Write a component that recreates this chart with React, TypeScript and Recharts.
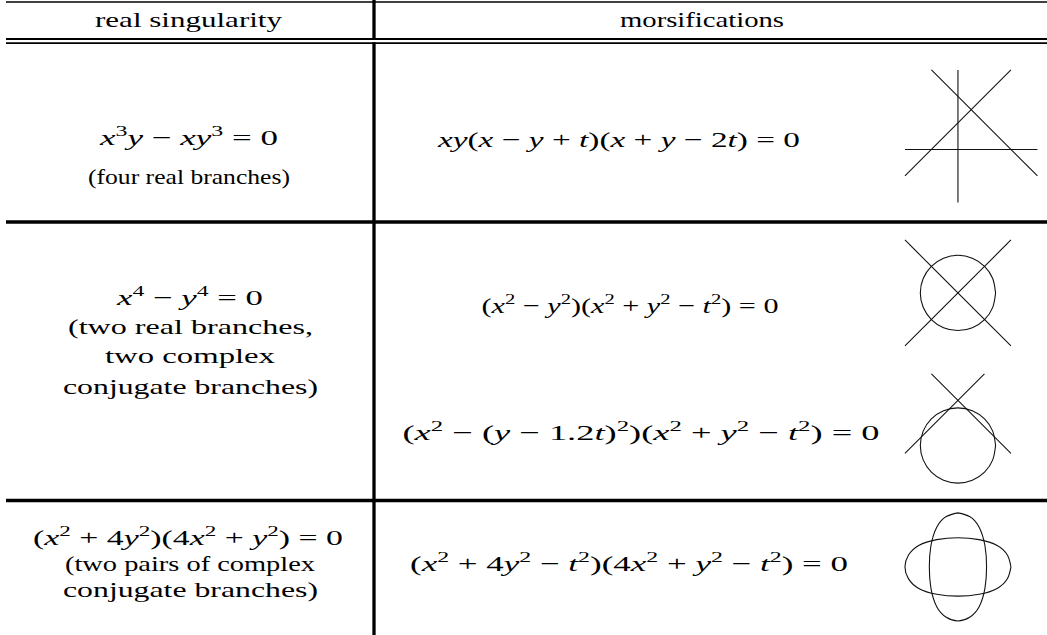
import { LineChart, Line, XAxis, YAxis } from 'recharts';

// ---- table text ----
const headers = ['real singularity', 'morsifications'];

const singularities = [
  'x^3y − xy^3 = 0',
  'x^4 − y^4 = 0',
  '(x^2 + 4y^2)(4x^2 + y^2) = 0',
];

const singularityNotes = [
  ['(four real branches)'],
  ['(two real branches,', 'two complex', 'conjugate branches)'],
  ['(two pairs of complex', 'conjugate branches)'],
];

const morsifications = [
  'xy(x − y + t)(x + y − 2t) = 0',
  '(x^2 − y^2)(x^2 + y^2 − t^2) = 0',
  '(x^2 − (y − 1.2t)^2)(x^2 + y^2 − t^2) = 0',
  '(x^2 + 4y^2 − t^2)(4x^2 + y^2 − t^2) = 0',
];

// ---- curve data (units of t-ish, read off the sketches) ----
// fig 1: xy(x - y + t)(x + y - 2t)
const fig1Vertical = [{ x: 0, y: -2 }, { x: 0, y: 3 }];
const fig1Horizontal = [{ x: -2, y: 0 }, { x: 3, y: 0 }];
const fig1Rising = [{ x: -2, y: -1 }, { x: 2, y: 3 }];
const fig1Falling = [{ x: -1, y: 3 }, { x: 3, y: -1 }];

// fig 2: (x^2 - y^2)(x^2 + y^2 - t^2)
const fig2Rising = [{ x: -2, y: -2 }, { x: 2, y: 2 }];
const fig2Falling = [{ x: -2, y: 2 }, { x: 2, y: -2 }];

const circle = [
  { x: 1.42, y: 0 }, { x: 1.312, y: 0.543 }, { x: 1.004, y: 1.004 }, { x: 0.543, y: 1.312 },
  { x: 0, y: 1.42 }, { x: -0.543, y: 1.312 }, { x: -1.004, y: 1.004 }, { x: -1.312, y: 0.543 },
  { x: -1.42, y: 0 }, { x: -1.312, y: -0.543 }, { x: -1.004, y: -1.004 }, { x: -0.543, y: -1.312 },
  { x: 0, y: -1.42 }, { x: 0.543, y: -1.312 }, { x: 1.004, y: -1.004 }, { x: 1.312, y: -0.543 },
  { x: 1.42, y: 0 },
];

// fig 3: (x^2 - (y - 1.2t)^2)(x^2 + y^2 - t^2)
const fig3Rising = [{ x: -2, y: -0.3 }, { x: 1, y: 2.7 }];
const fig3Falling = [{ x: -1, y: 2.7 }, { x: 2, y: -0.3 }];

// fig 4: (x^2 + 4y^2 - t^2)(4x^2 + y^2 - t^2)
const wideOval = [
  { x: 2, y: 0 }, { x: 1.87, y: 0.44 }, { x: 1.48, y: 0.81 }, { x: 0.8, y: 1.03 },
  { x: 0, y: 1.1 }, { x: -0.8, y: 1.03 }, { x: -1.48, y: 0.81 }, { x: -1.87, y: 0.44 },
  { x: -2, y: 0 }, { x: -1.87, y: -0.44 }, { x: -1.48, y: -0.81 }, { x: -0.8, y: -1.03 },
  { x: 0, y: -1.1 }, { x: 0.8, y: -1.03 }, { x: 1.48, y: -0.81 }, { x: 1.87, y: -0.44 },
  { x: 2, y: 0 },
];
const tallOval = [
  { x: 0, y: 2.04 }, { x: 0.44, y: 1.9 }, { x: 0.8, y: 1.5 }, { x: 1.02, y: 0.8 },
  { x: 1.08, y: 0 }, { x: 1.02, y: -0.8 }, { x: 0.8, y: -1.5 }, { x: 0.44, y: -1.9 },
  { x: 0, y: -2.04 }, { x: -0.44, y: -1.9 }, { x: -0.8, y: -1.5 }, { x: -1.02, y: -0.8 },
  { x: -1.08, y: 0 }, { x: -1.02, y: 0.8 }, { x: -0.8, y: 1.5 }, { x: -0.44, y: 1.9 },
  { x: 0, y: 2.04 },
];

// ---- layout ----
const W = 1047;
const H = 635;
const UNIT = 26.5; // px per unit in the sketches
const FONT = '"Liberation Serif", "Times New Roman", serif';
const FS = 22;
const SUP = 15;
const RISE = 9;

const headerPos = [
  { cx: 188.5, base: 27, w: 187 },
  { cx: 702, base: 27, w: 164 },
];
const singularityPos = [
  { cx: 189, base: 145, w: 178 },
  { cx: 190, base: 305, w: 146 },
  { cx: 188, base: 545, w: 310 },
];
const notePos = [
  [{ cx: 189, base: 184, w: 202 }],
  [{ cx: 190.5, base: 334, w: 245 }, { cx: 190, base: 363, w: 170 }, { cx: 190.5, base: 394, w: 255 }],
  [{ cx: 190, base: 571, w: 250 }, { cx: 190.5, base: 597, w: 255 }],
];
const morsPos = [
  { cx: 619, base: 147, w: 362 },
  { cx: 630, base: 313, w: 297 },
  { cx: 641, base: 440, w: 477 },
  { cx: 629, base: 571, w: 438 },
];

type Pt = { x: number; y: number };
type Sketch = {
  ox: number;
  oy: number;
  x: [number, number];
  y: [number, number];
  lines: Pt[][];
  curves: Pt[][];
};

const sketches: Sketch[] = [
  { ox: 958, oy: 149, x: [-2.3, 3.3], y: [-2.3, 3.3], lines: [fig1Vertical, fig1Horizontal, fig1Rising, fig1Falling], curves: [] },
  { ox: 958, oy: 293, x: [-2.3, 2.3], y: [-2.3, 2.3], lines: [fig2Rising, fig2Falling], curves: [circle] },
  { ox: 958, oy: 445.5, x: [-2.3, 2.3], y: [-1.7, 3.0], lines: [fig3Rising, fig3Falling], curves: [circle] },
  { ox: 958, oy: 567, x: [-2.3, 2.3], y: [-2.3, 2.3], lines: [], curves: [wideOval, tallOval] },
];

// split "x^2 + 4y^2" into runs: italic letters, roman rest, one-char superscripts
function mathRuns(src: string) {
  const runs: { t: string; it: boolean; sup: boolean }[] = [];
  for (let i = 0; i < src.length; i++) {
    let c = src[i];
    let sup = false;
    if (c === '^') {
      sup = true;
      c = src[++i];
    }
    const it = /[a-z]/.test(c);
    const last = runs[runs.length - 1];
    if (last && last.it === it && last.sup === sup) last.t += c;
    else runs.push({ t: c, it, sup });
  }
  return runs;
}

function MathText({ src, cx, base, w }: { src: string; cx: number; base: number; w: number }) {
  const runs = mathRuns(src);
  let up = false;
  return (
    <text
      x={cx}
      y={base}
      textAnchor="middle"
      textLength={w}
      lengthAdjust="spacingAndGlyphs"
      fontFamily={FONT}
      fontSize={FS}
      style={{ whiteSpace: 'pre' }}
    >
      {runs.map((r, i) => {
        let dy = 0;
        if (r.sup && !up) dy = -RISE;
        if (!r.sup && up) dy = RISE;
        up = r.sup;
        return (
          <tspan key={i} dy={dy || undefined} fontStyle={r.it ? 'italic' : 'normal'} fontSize={r.sup ? SUP : FS}>
            {r.t}
          </tspan>
        );
      })}
    </text>
  );
}

function PlainText({ s, cx, base, w }: { s: string; cx: number; base: number; w: number }) {
  return (
    <text
      x={cx}
      y={base}
      textAnchor="middle"
      textLength={w}
      lengthAdjust="spacingAndGlyphs"
      fontFamily={FONT}
      fontSize={FS}
      style={{ whiteSpace: 'pre' }}
    >
      {s}
    </text>
  );
}

function SketchChart({ s }: { s: Sketch }) {
  const width = (s.x[1] - s.x[0]) * UNIT;
  const height = (s.y[1] - s.y[0]) * UNIT;
  const left = s.ox + s.x[0] * UNIT;
  const top = s.oy - s.y[1] * UNIT;
  return (
    <div style={{ position: 'absolute', left, top, width, height }}>
      <LineChart width={width} height={height} margin={{ top: 0, right: 0, bottom: 0, left: 0 }}>
        <XAxis type="number" dataKey="x" domain={s.x} hide allowDataOverflow />
        <YAxis type="number" domain={s.y} hide allowDataOverflow />
        {s.lines.map((d, i) => (
          <Line key={`l${i}`} data={d} dataKey="y" type="linear" stroke="#111" strokeWidth={1.1}
            dot={false} activeDot={false} isAnimationActive={false} />
        ))}
        {s.curves.map((d, i) => (
          <Line key={`c${i}`} data={d} dataKey="y" type="natural" stroke="#111" strokeWidth={1.1}
            dot={false} activeDot={false} isAnimationActive={false} />
        ))}
      </LineChart>
    </div>
  );
}

export default function App() {
  return (
    <div style={{ position: 'absolute', left: 0, top: 0, width: W, height: H, background: '#fff', overflow: 'hidden' }}>
      <svg width={W} height={H} style={{ position: 'absolute', left: 0, top: 0 }}>
        {/* rules */}
        <line x1={6} x2={W} y1={2} y2={2} stroke="#000" strokeWidth={1.5} />
        <line x1={6} x2={W} y1={39} y2={39} stroke="#000" strokeWidth={1.8} />
        <line x1={6} x2={W} y1={43.2} y2={43.2} stroke="#000" strokeWidth={1.8} />
        <line x1={6} x2={W} y1={222} y2={222} stroke="#000" strokeWidth={3.4} />
        <line x1={6} x2={W} y1={500.5} y2={500.5} stroke="#000" strokeWidth={3.4} />
        <line x1={374} x2={374} y1={0} y2={39.9} stroke="#000" strokeWidth={3.3} />
        <line x1={374} x2={374} y1={42.3} y2={H} stroke="#000" strokeWidth={3.3} />

        {headers.map((h, i) => (
          <PlainText key={h} s={h} {...headerPos[i]} />
        ))}
        {singularities.map((f, i) => (
          <MathText key={f} src={f} {...singularityPos[i]} />
        ))}
        {singularityNotes.map((lines, i) =>
          lines.map((s, j) => <PlainText key={`${i}-${j}`} s={s} {...notePos[i][j]} />)
        )}
        {morsifications.map((f, i) => (
          <MathText key={f} src={f} {...morsPos[i]} />
        ))}
      </svg>
      {sketches.map((s, i) => (
        <SketchChart key={i} s={s} />
      ))}
    </div>
  );
}
